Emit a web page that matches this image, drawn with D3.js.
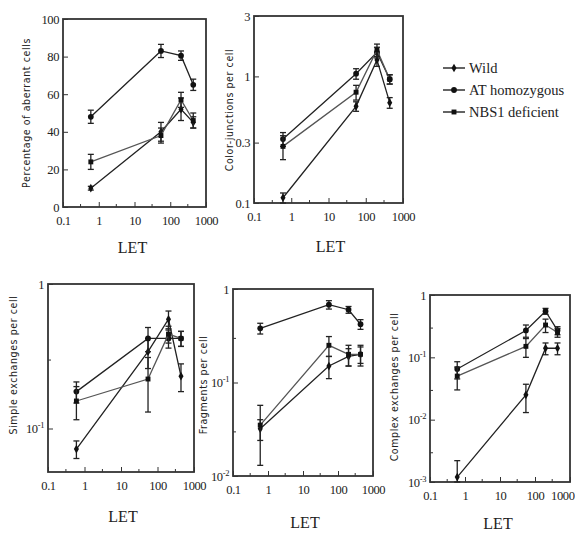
<!DOCTYPE html>
<html>
<head>
<meta charset="utf-8">
<script src="https://cdn.jsdelivr.net/npm/d3@7"></script>
<style>
  body { margin: 0; background: #fff; }
</style>
</head>
<body>
<div id="chart"></div>
<script>
// LET values (keV/um)
var letVals = [0.6, 55, 200, 440];
var seriesNames = ["Wild", "AT homozygous", "NBS1 deficient"];

// percentage of aberrant cells
var aberrWild = [10, 40, 52, 45];
var aberrAT = [48, 83, 80.5, 65];
var aberrNBS = [24, 38, 57, 46];
var aberrWildErr = [1, 5, 6, 3];
var aberrATErr = [3.5, 3.5, 2.5, 3];
var aberrNBSErr = [4, 4, 4, 4];

// color-junctions per cell
var cjWild = [0.11, 0.58, 1.35, 0.62];
var cjAT = [0.32, 1.05, 1.55, 0.95];
var cjNBS = [0.28, 0.75, 1.62, 0.95];
var cjWildErr = [0.01, 0.05, 0.15, 0.06];
var cjATErr = [0.04, 0.1, 0.15, 0.08];
var cjNBSErr = [0.06, 0.1, 0.18, 0.08];

// simple exchanges per cell
var seWild = [0.072, 0.34, 0.57, 0.23];
var seAT = [0.18, 0.42, 0.42, 0.42];
var seNBS = [0.155, 0.22, 0.45, 0.42];
var seWildErr = [0.01, 0.08, 0.08, 0.05];
var seATErr = [0.03, 0.08, 0.06, 0.05];
var seNBSErr = [0.04, 0.09, 0.06, 0.05];

// fragments per cell
var frWild = [0.032, 0.15, 0.19, 0.2];
var frAT = [0.38, 0.68, 0.6, 0.42];
var frNBS = [0.035, 0.25, 0.2, 0.2];
var frWildErr = [0.008, 0.04, 0.04, 0.04];
var frATErr = [0.05, 0.07, 0.05, 0.05];
var frNBSErr = [0.022, 0.06, 0.05, 0.05];

// complex exchanges per cell
var ceWild = [0.0012, 0.025, 0.14, 0.14];
var ceAT = [0.065, 0.27, 0.55, 0.27];
var ceNBS = [0.05, 0.15, 0.33, 0.25];
var ceWildErr = [0.001, 0.012, 0.03, 0.03];
var ceATErr = [0.02, 0.06, 0.06, 0.04];
var ceNBSErr = [0.02, 0.05, 0.08, 0.04];

var xMajor = [0.1, 1, 10, 100, 1000];
var xMinor = [0.3, 3, 30, 300];

var SERIF = "'Liberation Serif', 'Times New Roman', 'DejaVu Serif', serif";
var NARROW = "'Liberation Sans Narrow', 'DejaVu Sans Condensed', 'Liberation Sans', sans-serif";

var svg = d3.select("#chart").append("svg")
    .attr("width", 575)
    .attr("height", 535);

var symbols = [d3.symbolDiamond, d3.symbolCircle, d3.symbolSquare];
var symSizes = [22, 26, 24];

function drawPanel(p) {
    var g = svg.append("g");
    var x = d3.scaleLog().domain([0.1, 1000]).range([p.left, p.right]);
    var y = p.log
        ? d3.scaleLog().domain(p.yDomain).range([p.bottom, p.top])
        : d3.scaleLinear().domain(p.yDomain).range([p.bottom, p.top]);

    // minor ticks
    g.append("g")
        .attr("transform", "translate(0," + p.bottom + ")")
        .call(d3.axisBottom(x).tickValues(xMinor).tickSize(-3).tickFormat(""))
        .call(function(a) { a.select(".domain").remove(); });
    if (p.yMinor) {
        g.append("g")
            .attr("transform", "translate(" + p.left + ",0)")
            .call(d3.axisLeft(y).tickValues(p.yMinor).tickSize(-3).tickFormat(""))
            .call(function(a) { a.select(".domain").remove(); });
    }

    var xa = g.append("g")
        .attr("transform", "translate(0," + p.bottom + ")")
        .call(d3.axisBottom(x).tickValues(xMajor).tickSize(-5).tickPadding(9)
            .tickFormat(function(d) { return d < 1 ? "0.1" : d3.format("d")(d); }));
    xa.select(".domain").remove();
    xa.selectAll("text")
        .attr("font-family", SERIF).attr("font-size", 12.5).attr("fill", "#222")
        .attr("letter-spacing", -0.4);
    // keep the last label inside the page
    if (p.right + 12 > 575) {
        xa.selectAll(".tick text").filter(function(d) { return d == 1000; })
            .attr("text-anchor", "end").attr("dx", 4);
    }

    var ya = g.append("g")
        .attr("transform", "translate(" + p.left + ",0)")
        .call(d3.axisLeft(y).tickValues(p.yTicks).tickSize(-5).tickPadding(4)
            .tickFormat(function() { return ""; }));
    ya.select(".domain").remove();
    ya.selectAll(".tick text").each(function(d, i) {
        var t = d3.select(this).attr("font-family", SERIF)
            .attr("font-size", 12.5).attr("fill", "#222").attr("letter-spacing", -0.4);
        var lab = p.yLabels[i];
        if (lab.indexOf("^") >= 0) {
            var parts = lab.split("^");
            t.append("tspan").text(parts[0]);
            t.append("tspan").attr("dy", -5).attr("font-size", 8.5).text(parts[1]);
        } else {
            t.text(lab);
        }
    });
    g.selectAll(".tick line").attr("stroke", "#333");

    // frame
    g.append("rect")
        .attr("x", p.left).attr("y", p.top)
        .attr("width", p.right - p.left).attr("height", p.bottom - p.top)
        .attr("fill", "none").attr("stroke", "#333").attr("stroke-width", 1.8);

    // series
    var line = d3.line()
        .x(function(d) { return x(d.let); })
        .y(function(d) { return y(d.v); });
    p.series.forEach(function(s, si) {
        var pts = letVals.map(function(l, i) { return {let: l, v: s.vals[i], e: s.err[i]}; });
        g.append("path").datum(pts)
            .attr("d", line).attr("fill", "none")
            .attr("stroke", si == 2 ? "#555" : "#222").attr("stroke-width", 1.3);
        var eb = g.append("g").selectAll("g").data(pts).enter().append("g");
        eb.append("line")
            .attr("x1", function(d) { return x(d.let); })
            .attr("x2", function(d) { return x(d.let); })
            .attr("y1", function(d) { return y(Math.max(d.v - d.e, p.yDomain[0])); })
            .attr("y2", function(d) { return y(d.v + d.e); })
            .attr("stroke", "#222").attr("stroke-width", 1.3);
        [-1, 1].forEach(function(sg) {
            eb.append("line")
                .attr("x1", function(d) { return x(d.let) - 3; })
                .attr("x2", function(d) { return x(d.let) + 3; })
                .attr("y1", function(d) { return y(sg < 0 ? Math.max(d.v - d.e, p.yDomain[0]) : d.v + d.e); })
                .attr("y2", function(d) { return y(sg < 0 ? Math.max(d.v - d.e, p.yDomain[0]) : d.v + d.e); })
                .attr("stroke", "#222").attr("stroke-width", 1.3);
        });
        g.append("g").selectAll("path").data(pts).enter().append("path")
            .attr("d", d3.symbol().type(symbols[si]).size(symSizes[si]))
            .attr("transform", function(d) { return "translate(" + x(d.let) + "," + y(d.v) + ")"; })
            .attr("fill", "#111");
    });

    // axis titles
    g.append("text")
        .attr("x", (p.left + p.right) / 2 + p.letDx).attr("y", p.letY)
        .attr("text-anchor", "middle")
        .attr("font-family", SERIF).attr("font-size", 16)
        .attr("fill", "#222")
        .text("LET");
    g.append("text")
        .attr("transform", "translate(" + p.ylx + "," + p.yly + ") rotate(-90)")
        .attr("text-anchor", "middle")
        .attr("font-family", NARROW)
        .attr("font-size", 10.5).attr("letter-spacing", 0.6)
        .attr("fill", "#222")
        .text(p.yTitle);
}

function mk(vals, errs) {
    return vals.map(function(v, i) { return {vals: v, err: errs[i]}; });
}

drawPanel({left: 63, top: 19, right: 206, bottom: 207, log: false,
    yDomain: [0, 100], yTicks: [0, 20, 40, 60, 80, 100],
    yLabels: ["0", "20", "40", "60", "80", "100"],
    yTitle: "Percentage of aberrant cells", ylx: 30, yly: 113, letY: 253, letDx: -2,
    series: mk([aberrWild, aberrAT, aberrNBS], [aberrWildErr, aberrATErr, aberrNBSErr])});

drawPanel({left: 254, top: 16, right: 403, bottom: 203, log: true,
    yDomain: [0.1, 3], yTicks: [0.1, 0.3, 1, 3],
    yLabels: ["0.1", "0.3", "1", "3"],
    yTitle: "Color-junctions per cell", ylx: 233, yly: 110, letY: 252, letDx: 2,
    series: mk([cjWild, cjAT, cjNBS], [cjWildErr, cjATErr, cjNBSErr])});

drawPanel({left: 48, top: 284, right: 194, bottom: 472, log: true,
    yDomain: [0.05, 1], yTicks: [0.1, 1], yMinor: [0.3],
    yLabels: ["10^-1", "1"],
    yTitle: "Simple exchanges per cell", ylx: 17, yly: 365, letY: 522, letDx: 2,
    series: mk([seWild, seAT, seNBS], [seWildErr, seATErr, seNBSErr])});

drawPanel({left: 233, top: 289, right: 373, bottom: 476, log: true,
    yDomain: [0.01, 1], yTicks: [0.01, 0.1, 1], yMinor: [0.03, 0.3],
    yLabels: ["10^-2", "10^-1", "1"],
    yTitle: "Fragments per cell", ylx: 207, yly: 385, letY: 528, letDx: 2,
    series: mk([frWild, frAT, frNBS], [frWildErr, frATErr, frNBSErr])});

drawPanel({left: 430, top: 295, right: 570, bottom: 482, log: true,
    yDomain: [0.001, 1], yTicks: [0.001, 0.01, 0.1, 1], yMinor: [0.003, 0.03, 0.3],
    yLabels: ["10^-3", "10^-2", "10^-1", "1"],
    yTitle: "Complex exchanges per cell", ylx: 398, yly: 387, letY: 529, letDx: -2,
    series: mk([ceWild, ceAT, ceNBS], [ceWildErr, ceATErr, ceNBSErr])});

// legend
var legend = svg.append("g");
seriesNames.forEach(function(name, i) {
    var ly = 68 + i * 22;
    legend.append("line").attr("x1", 443).attr("x2", 465).attr("y1", ly).attr("y2", ly)
        .attr("stroke", "#222").attr("stroke-width", 1.4);
    legend.append("path")
        .attr("d", d3.symbol().type(symbols[i]).size(symSizes[i]))
        .attr("transform", "translate(454," + ly + ")").attr("fill", "#111");
    legend.append("text").attr("x", 469).attr("y", ly + 4.5)
        .attr("font-family", SERIF).attr("font-size", 14.5)
        .attr("fill", "#222").text(name);
});
</script>
</body>
</html>
